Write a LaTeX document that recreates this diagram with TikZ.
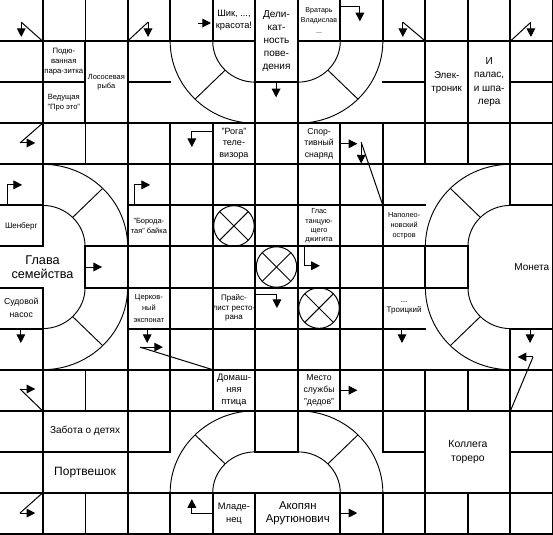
\documentclass[tikz,border=0pt]{standalone}
\usepackage{fontspec}
\setmainfont{Liberation Sans}
\usetikzlibrary{arrows.meta}

\begin{document}
\begin{tikzpicture}[
  x=31.904pt, y=-30.808pt,
  thk/.style={line width=1.5pt, line cap=rect},
  thn/.style={line width=0.75pt},
  arcln/.style={line width=0.7pt},
  ptr/.style={line width=0.75pt, -{Triangle[length=6.5pt,width=6.5pt]}},
  txt/.style 2 args={font=\fontsize{#1}{#2}\selectfont, align=center, inner sep=0pt},
  bigt/.style={txt={9.5}{10.5}},
  midt/.style={txt={7}{9}}
]
\useasboundingbox (0,0) rectangle (13,13);

% grid lines
\foreach \r/\a/\b in {1/0/6, 1/7/13, 2/0/2, 2/3/4, 2/6/7, 2/9/10, 2/12/13,
    3/0/13, 4/0/13, 5/0/1, 5/3/10, 5/12/13, 6/0/1, 6/2/11, 7/0/1, 7/2/11,
    8/0/1, 8/3/10, 8/12/13, 9/0/13, 10/0/13, 11/0/4, 11/6/7, 11/9/10,
    11/12/13, 12/0/13, 13/0/13}
  \draw[thk] (\a,\r) -- (\b,\r);
\foreach \k/\a/\b in {1/0/6, 1/7/13, 2/1/3, 2/6/7, 3/0/13, 4/0/1, 4/3/11,
    4/12/13, 5/0/1, 5/3/10, 5/12/13, 6/0/11, 6/12/13, 7/0/11, 8/0/1, 8/3/10,
    8/12/13, 9/0/1, 9/3/11, 9/12/13, 10/0/4, 10/6/7, 10/9/13, 11/0/4, 11/6/7,
    11/9/10, 11/12/13, 12/0/5, 12/8/13, 13/0/13}
  \draw[thk] (\k,\a) -- (\k,\b);
\foreach \a/\b in {0/1, 3/4, 9/10, 12/13}
  \draw[thn] (2,\a) -- (2,\b);

% rounded bends
\foreach \cx/\cy/\sa/\ra in {6/1/180/225, 7/1/270/315, 1/6/0/45, 1/7/270/315,
    12/6/90/135, 12/7/180/225, 6/12/90/135, 7/12/0/45} {
  \draw[arcln] (\cx,\cy) ++(\sa:31.904pt and 30.808pt)
    arc[start angle=\sa, delta angle=90, x radius=31.904pt, y radius=30.808pt];
  \draw[arcln] (\cx,\cy) ++(\sa:63.808pt and 61.616pt)
    arc[start angle=\sa, delta angle=90, x radius=63.808pt, y radius=61.616pt];
  \draw[arcln] (\cx,\cy) ++(\ra:31.904pt and 30.808pt) -- ++(\ra:31.904pt and 30.808pt);
}

% crossed circles
\foreach \c in {5,6,7} {
  \draw[thn] (\c+0.5,\c+0.5) circle[radius=15.2pt];
  \draw[thn] (\c+0.5,\c+0.5) ++(45:15.2pt) -- ++(225:30.4pt);
  \draw[thn] (\c+0.5,\c+0.5) ++(135:15.2pt) -- ++(315:30.4pt);
}

% clues
\node[txt={5.8}{7.5}] (podu) at (1.5,1.5) {Подю-\\ванная\\пара-зитка};
\node[txt={5.7}{7.5}] (vedu) at (1.5,2.5) {Ведущая\\"Про это"};
\node[txt={5.6}{6.8}] (losos) at (2.5,2) {Лососевая\\рыба};
\node[midt] (shik) at (5.5,0.5) {Шик, ...,\\красота!};
\node[txt={7.5}{9.8}] (delik) at (6.5,1) {Дели-\\кат-\\ность\\пове-\\дения};
\node[txt={5.3}{8}] (vrat) at (7.5,0.5) {Вратарь\\Владислав\\...};
\node[txt={7.3}{9.8}] (elek) at (10.5,2) {Элек-\\троник};
\node[txt={7.5}{10}] (palas) at (11.5,2) {И\\палас,\\и шпа-\\лера};
\node[txt={6.8}{8.8}] (roga) at (5.5,3.5) {"Рога"\\теле-\\визора};
\node[txt={6.5}{8.8}] (sport) at (7.5,3.5) {Спор-\\тивный\\снаряд};
\node[txt={6}{7}] (shen) at (0.5,5.5) {Шенберг};
\node[txt={5.6}{7.5}] (boroda) at (3.5,5.5) {"Борода-\\тая" байка};
\node[txt={5.5}{6.9}] (glas) at (7.5,5.5) {Глас\\танцую-\\щего\\джигита};
\node[txt={5.5}{7.3}] (napol) at (9.5,5.5) {Наполео-\\новский\\остров};
\node[bigt] (glava) at (1,6.5) {Глава\\семейства};
\node[txt={7.5}{9}] (moneta) at (12.5,6.5) {Монета};
\node[txt={6.5}{9.5}] (sudov) at (0.5,7.5) {Судовой\\насос};
\node[txt={5.6}{8.6}] (cerkov) at (3.5,7.5) {Церков-\\ный\\экспонат};
\node[txt={6}{7.1}] (prais) at (5.5,7.5) {Прайс-\\лист ресто-\\рана};
\node[txt={6}{7.5}] (troic) at (9.5,7.5) {...\\Троицкий};
\node[midt] (domash) at (5.5,9.5) {Домаш-\\няя\\птица};
\node[txt={6.5}{9}] (mesto) at (7.5,9.5) {Место\\службы\\"дедов"};
\node[txt={7.5}{9}] (zabota) at (2,10.5) {Забота о детях};
\node[txt={9}{10}] (portv) at (2,11.5) {Портвешок};
\node[txt={7.8}{10.5}] (kolleg) at (11,11) {Коллега\\тореро};
\node[txt={7}{9.8}] (mladen) at (5.5,12.5) {Младе-\\нец};
\node[txt={8.5}{10}] (akop) at (7,12.5) {Акопян\\Арутюнович};

% pointers
\draw[thn] (1,1) -- (0.5,0.54);
\draw[ptr] (0.5,0.54) -- (0.5,0.9);
\draw[thn] (3,1) -- (3.48,0.54);
\draw[ptr] (3.48,0.54) -- (3.48,0.9);
\draw[ptr] (4.65,0.56) -- (4.96,0.56);
\draw[ptr] (8,0.17) -- (8.46,0.17) -- (8.46,0.52);
\draw[thn] (10,1) -- (9.47,0.54);
\draw[ptr] (9.47,0.54) -- (9.47,0.9);
\draw[thn] (12,1) -- (12.48,0.54);
\draw[ptr] (12.48,0.54) -- (12.48,0.9);
\draw[ptr] (6.49,2) -- (6.49,2.37);
\draw[thn] (1,3) -- (0.47,3.48);
\draw[ptr] (0.47,3.48) -- (0.83,3.48);
\draw[ptr] (5,3.19) -- (4.51,3.19) -- (4.51,3.58);
\draw[ptr] (8,3.5) -- (8.4,3.5);
\draw[thn] (9,5) -- (8.49,3.46);
\draw[ptr] (8.49,3.46) -- (8.49,3.98);
\draw[ptr] (0.165,5) -- (0.165,4.5) -- (0.52,4.5);
\draw[ptr] (3.17,5) -- (3.17,4.5) -- (3.53,4.5);
\draw[ptr] (2,6.5) -- (2.4,6.5);
\draw[ptr] (7.15,6) -- (7.15,6.47) -- (7.52,6.47);
\draw[ptr] (6,7.18) -- (6.51,7.18) -- (6.51,7.5);
\draw[ptr] (0.49,8.03) -- (0.49,8.35);
\draw[ptr] (3.46,8.03) -- (3.46,8.35);
\draw[thn] (5,9) -- (3.29,8.45);
\draw[ptr] (3.29,8.45) -- (3.83,8.45);
\draw[ptr] (9.45,8.03) -- (9.45,8.35);
\draw[ptr] (12.46,8.03) -- (12.46,8.35);
\draw[thn] (12,10) -- (12.53,8.69);
\draw[ptr] (12.53,8.69) -- (12.17,8.69);
\draw[thn] (1,10) -- (0.47,9.47);
\draw[ptr] (0.47,9.47) -- (0.83,9.47);
\draw[ptr] (8,9.5) -- (8.4,9.5);
\draw[thn] (1,12) -- (0.47,12.49);
\draw[ptr] (0.47,12.49) -- (0.83,12.49);
\draw[ptr] (5,12.49) -- (4.51,12.49) -- (4.51,12.15);
\draw[ptr] (8,12.49) -- (8.4,12.49);
\end{tikzpicture}
\end{document}
